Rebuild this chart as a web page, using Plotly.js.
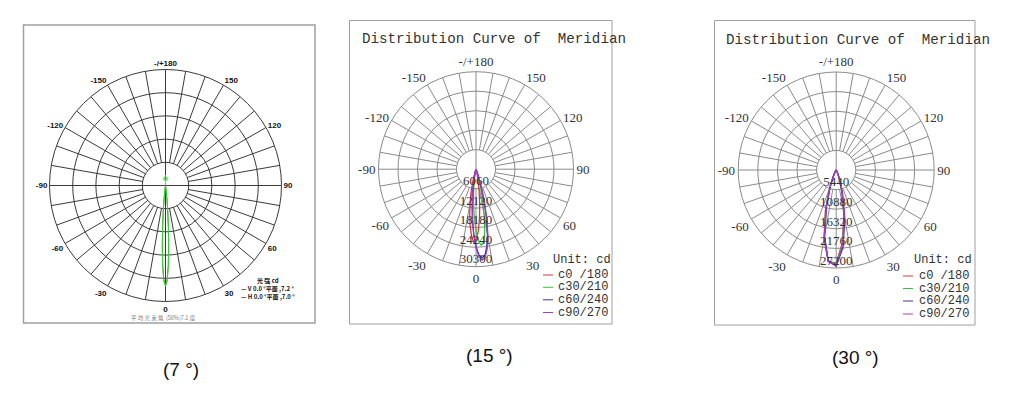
<!DOCTYPE html>
<html><head><meta charset="utf-8">
<script src="https://cdn.plot.ly/plotly-3.0.1.min.js"></script>
<style>html,body{margin:0;padding:0;background:#fff;}#chart{width:1030px;height:397px;}</style>
</head><body><div id="chart"></div>
<script>
// ---------------- DATA ----------------
const angleTickVals = [0, 30, 60, 90, 120, 150, 180, 210, 240, 270, 300, 330];
const angleTickText = ['0', '30', '60', '90', '120', '150', '-/+180', '-150', '-120', '-90', '-60', '-30'];

// Panel 1 : 7° beam (relative intensity, outer ring = 100)
const p1Rings = [20, 40, 60, 80, 100];
const p1Theta = [-20, -10, -8, -6, -5, -4, -3, -2, -1, 0, 1, 2, 3, 4, 5, 6, 8, 10, 20];
const p1V     = [0, 0.4, 2.8, 12.7, 22.9, 37.0, 53.8, 70.2, 82.5, 87.0, 82.5, 70.2, 53.8, 37.0, 22.9, 12.7, 2.8, 0.4, 0];
const p1H     = [0, 0.3, 2.3, 11.2, 20.9, 34.7, 51.7, 68.5, 81.3, 86.0, 81.3, 68.5, 51.7, 34.7, 20.9, 11.2, 2.3, 0.3, 0];
const p1BackTheta = [0, 180];
const p1BackR     = [0, 5.8];
const p1Names = ['V 0.0 °平面 ,7.2 °', 'H 0.0 °平面 ,7.0 °'];

// Panel 2 : 15° beam (cd)
const p2Rings = [6060, 12120, 18180, 24240, 30300];
const p2Theta = [-30, -16, -12, -10, -8, -6, -4, -2, 0, 2, 4, 6, 8, 10, 12, 14, 16, 20, 30];
const p2C0  = [0, 3000, 7500, 10500, 14000, 17500, 20500, 22600, 22000, 19500, 15500, 11000, 7000, 4000, 2000, 900, 400, 100, 0];
const p2C30 = [0, 300, 1200, 2500, 4500, 7500, 11000, 15000, 19000, 22300, 23700, 22800, 19500, 15000, 10000, 6000, 3200, 800, 0];
const p2C60 = [0, 700, 2200, 4000, 7000, 11000, 15500, 20000, 24000, 26700, 27600, 26800, 24200, 20500, 15500, 10500, 6500, 1800, 0];
const p2C90 = [0, 800, 2500, 4500, 7500, 11500, 16000, 20500, 24500, 27300, 28300, 27500, 25000, 21500, 16500, 11500, 7000, 2000, 0];

// Panel 3 : 30° beam (cd)
const p3Rings = [5440, 10880, 16320, 21760, 27200];
const p3Theta = [-60, -40, -35, -30, -25, -20, -15, -10, -5, 0, 5, 10, 15, 20, 25, 30, 40, 60];
const p3C0  = [0, 30, 160, 650, 2100, 5500, 11600, 19500, 25400, 25900, 20100, 12100, 5700, 2100, 600, 120, 0, 0];
const p3C30 = [0, 25, 130, 560, 1900, 5100, 11000, 19100, 25400, 26100, 20600, 12800, 6100, 2300, 680, 150, 0, 0];
const p3C60 = [0, 15, 100, 460, 1600, 4600, 10400, 18600, 25300, 26700, 21600, 13700, 6800, 2700, 800, 190, 10, 0];
const p3C90 = [0, 20, 120, 520, 1800, 5000, 10900, 19000, 25500, 26600, 21000, 13000, 6300, 2400, 720, 160, 10, 0];

const seriesNames = ['c0 /180', 'c30/210', 'c60/240', 'c90/270'];
const captions = ['(7 °)', '(15 °)', '(30 °)'];
const titleText = 'Distribution Curve of  Meridian';

// ---------------- STYLE / LAYOUT ----------------
const W = 1030, H = 397;
const seriesColors = ['#cc3a3a', '#3cbf3c', '#34349c', '#a23cc8'];
function dom(cx, cy, r) { return { x: [(cx - r) / W, (cx + r) / W], y: [1 - (cy + r) / H, 1 - (cy - r) / H] }; }
function px(x) { return x / W; }
function py(y) { return 1 - y / H; }

function spokeTrace(sub, rIn, rOut, centerAngles, color, width) {
  const th = [], rr = [];
  for (let a = 0; a < 360; a += 10) {
    th.push(a, a, null);
    rr.push(centerAngles.indexOf(a) >= 0 ? 0 : rIn, rOut, null);
  }
  return { type: 'scatterpolar', subplot: sub, mode: 'lines', theta: th, r: rr, connectgaps: false,
           line: { color: color, width: width }, hoverinfo: 'skip', showlegend: false };
}

function polarLayout(d, maxR, rings, gridColor, gridWidth, tickFont) {
  return {
    domain: d,
    bgcolor: 'rgba(0,0,0,0)',
    radialaxis: { range: [0, maxR], tickmode: 'array', tickvals: rings, showticklabels: false, ticks: '',
                  showline: false, gridcolor: gridColor, gridwidth: gridWidth },
    angularaxis: { rotation: -90, direction: 'counterclockwise', tickmode: 'array', tickvals: angleTickVals,
                   ticktext: angleTickText, showgrid: false, ticks: '', showline: true,
                   linecolor: gridColor, linewidth: gridWidth, tickfont: tickFont }
  };
}

const traces = [];
// Panel 1
traces.push(spokeTrace('polar', p1Rings[0], p1Rings[p1Rings.length - 1], [0, 90, 180, 270], '#3a3a3a', 1));
traces.push({ type: 'scatterpolar', subplot: 'polar', mode: 'lines', theta: p1Theta, r: p1H, name: p1Names[1],
              line: { color: '#4f8a1e', width: 1 }, showlegend: false });
traces.push({ type: 'scatterpolar', subplot: 'polar', mode: 'lines', theta: p1Theta, r: p1V, name: p1Names[0],
              line: { color: '#3ccf3c', width: 1 }, showlegend: false });
traces.push({ type: 'scatterpolar', subplot: 'polar', mode: 'lines+markers', theta: p1BackTheta, r: p1BackR,
              line: { color: '#3ccf3c', width: 1 }, marker: { size: [0, 6], color: '#3ccf3c' }, showlegend: false, name: 'V back' });

// Panel 2 & 3
const serifTick = { family: 'Liberation Serif', size: 13, color: '#333' };
function addMeridianPanel(sub, rings, theta, series) {
  traces.push(spokeTrace(sub, rings[0], rings[rings.length - 1], [180], '#8a8a8a', 1));
  series.forEach((s, i) => {
    traces.push({ type: 'scatterpolar', subplot: sub, mode: 'lines', theta: theta, r: s, name: seriesNames[i],
                  line: { color: seriesColors[i], width: 1.3 }, showlegend: false });
  });
  traces.push({ type: 'scatterpolar', subplot: sub, mode: 'text', theta: rings.map(() => 0), r: rings,
                text: rings.map(String), textposition: 'top center', textfont: serifTick,
                hoverinfo: 'skip', showlegend: false });
}
addMeridianPanel('polar2', p2Rings, p2Theta, [p2C0, p2C30, p2C60, p2C90]);
addMeridianPanel('polar3', p3Rings, p3Theta, [p3C0, p3C30, p3C60, p3C90]);

const shapes = [
  { type: 'rect', xref: 'paper', yref: 'paper', x0: px(23.5), x1: px(315), y0: py(323), y1: py(25), line: { color: '#a0a0a0', width: 1.5 } },
  { type: 'rect', xref: 'paper', yref: 'paper', x0: px(349.5), x1: px(612), y0: py(324), y1: py(20.5), line: { color: '#a0a0a0', width: 1 } },
  { type: 'rect', xref: 'paper', yref: 'paper', x0: px(714.5), x1: px(975), y0: py(325), y1: py(20.5), line: { color: '#a0a0a0', width: 1 } }
];
const annotations = [];
function ann(text, x, y, font, xanchor) {
  annotations.push({ text: text, xref: 'paper', yref: 'paper', x: px(x), y: py(y), xanchor: xanchor || 'center',
                     yanchor: 'middle', showarrow: false, font: font, borderpad: 0 });
}
// captions
const capFont = { family: 'Liberation Sans', size: 19, color: '#111' };
ann(captions[0], 181, 369, capFont);
ann(captions[1], 489, 355, capFont);
ann(captions[2], 855, 357, capFont);
// titles
const titleFont = { family: 'Liberation Mono', size: 14.2, color: '#333' };
ann(titleText, 361, 39, titleFont, 'left');
ann(titleText, 725, 40, titleFont, 'left');
// meridian legends
const legFont = { family: 'Liberation Mono', size: 12, color: '#333' };
function meridianLegend(xLine, xText, yUnit, rows) {
  ann('Unit: cd', xText - 5, yUnit, legFont, 'left');
  rows.forEach((y, i) => {
    ann(seriesNames[i], xText, y, legFont, 'left');
    shapes.push({ type: 'line', xref: 'paper', yref: 'paper', x0: px(xLine), x1: px(xLine + 10), y0: py(y), y1: py(y),
                  line: { color: seriesColors[i], width: 1 } });
  });
}
meridianLegend(543, 557, 259.5, [275, 287.3, 299.8, 312.5]);
meridianLegend(903, 918, 260, [276, 288.5, 301, 314]);
// panel 1 legend
const cjkBold = { family: 'Noto Sans CJK SC', size: 6, color: '#111', weight: 'bold' };
ann('光 强 cd', 268, 280.5, cjkBold);
ann('— ' + p1Names[0], 240, 288.5, cjkBold, 'left');
ann('— ' + p1Names[1], 240, 296.5, cjkBold, 'left');
ann('平 均 光 束 角  (50%)7.1 度', 163, 317.5, { family: 'Noto Sans CJK SC', size: 5.5, color: '#777' });

const layout = {
  width: W, height: H, autosize: false,
  margin: { l: 0, r: 0, t: 0, b: 0, pad: 0 },
  paper_bgcolor: '#fff', showlegend: false,
  polar: polarLayout(dom(165.5, 185.5, 116), p1Rings[p1Rings.length - 1], p1Rings, '#3a3a3a', 1,
                     { family: 'Liberation Sans', size: 8, color: '#111', weight: 'bold' }),
  polar2: polarLayout(dom(476, 169.2, 97.5), p2Rings[p2Rings.length - 1], p2Rings, '#8a8a8a', 1, serifTick),
  polar3: polarLayout(dom(836.2, 170, 98), p3Rings[p3Rings.length - 1], p3Rings, '#8a8a8a', 1, serifTick),
  shapes: shapes,
  annotations: annotations
};
Plotly.newPlot('chart', traces, layout, { staticPlot: true, displayModeBar: false });
</script>
</body></html>
